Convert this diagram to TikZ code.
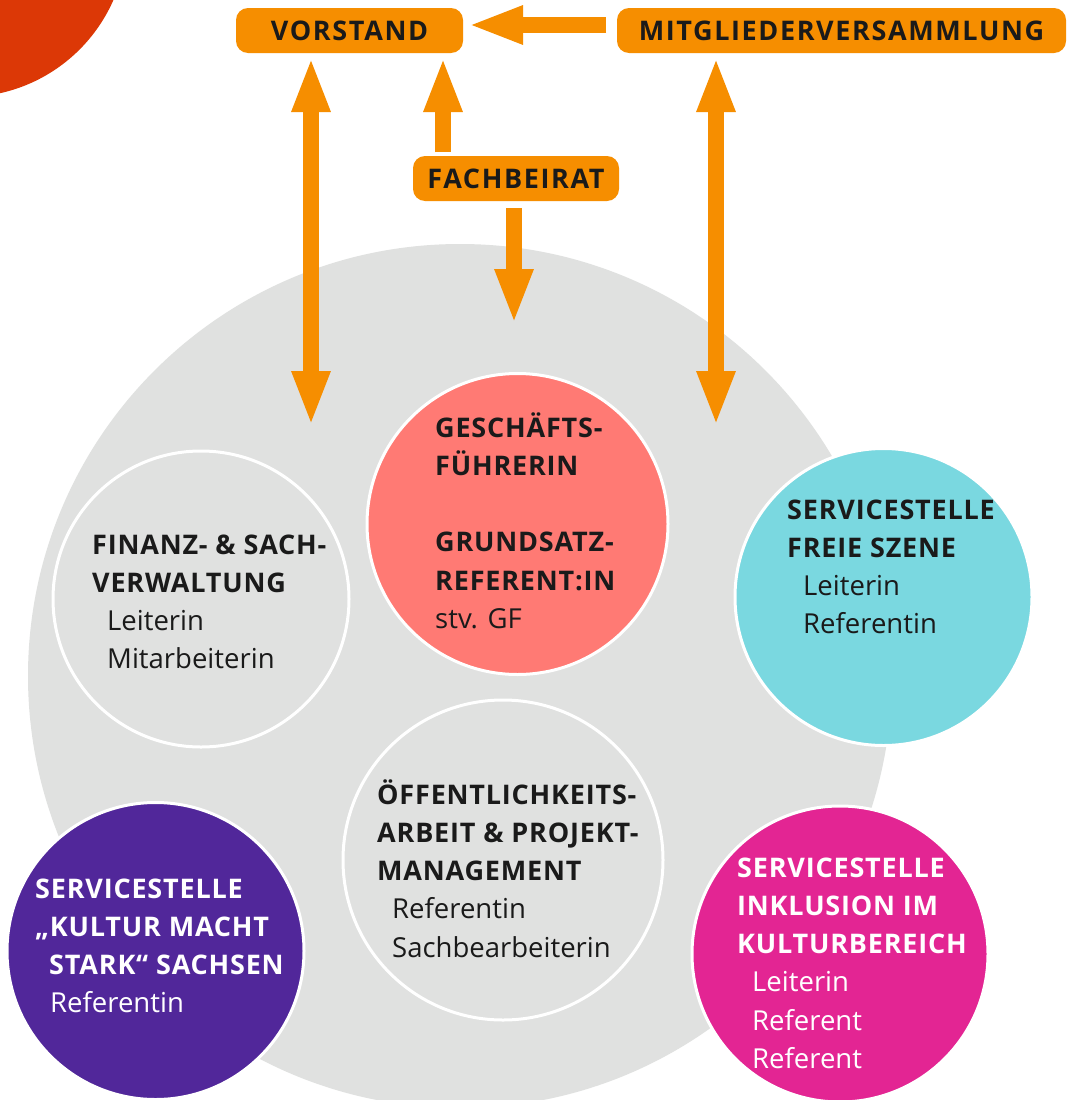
\documentclass[tikz,border=0pt]{standalone}
\usepackage{fontspec}
\setmainfont{Open Sans}
\newfontfamily\labelfont{Open Sans}[LetterSpace=6]
\newfontfamily\headfont{Open Sans}[LetterSpace=3]
\usetikzlibrary{arrows.meta}

\definecolor{bggray}{HTML}{E0E1E0}
\definecolor{orng}{HTML}{F68E00}
\definecolor{redor}{HTML}{DC3806}
\definecolor{gfred}{HTML}{FF7A74}
\definecolor{szcyan}{HTML}{7AD8E0}
\definecolor{kmspurple}{HTML}{51279A}
\definecolor{inkmag}{HTML}{E32593}
\definecolor{ink}{HTML}{1A1A1A}

\newcommand{\unithead}{\headfont\bfseries\fontsize{27}{38.3}\selectfont}
\newcommand{\unitbox}[1]{\parbox[t]{320pt}{\raggedright\fontsize{27.5}{38.3}\selectfont #1}}

\begin{document}
\begin{tikzpicture}[x=1pt,y=-1pt,
  orgbox/.style={fill=orng, rounded corners=12pt, inner sep=0, text=ink,
    minimum height=45pt, font=\labelfont\bfseries\fontsize{27}{30}\selectfont},
  unit/.style={circle, draw=white, line width=3pt, inner sep=0},
  fatarrow/.style={draw=orng, line width=16pt, -{Triangle[width=35pt,length=55pt]}},
  fatboth/.style={draw=orng, line width=16pt,
    {Triangle[width=35pt,length=55pt]}-{Triangle[width=35pt,length=55pt]}},
  circtext/.style={anchor=base west, inner sep=0}]

\useasboundingbox (0,0) rectangle (1069,1100);
\fill[white] (0,0) rectangle (1069,1100);
\clip (0,0) rectangle (1069,1100);

% background shapes
\fill[redor] (-35,-65) circle[radius=162pt];
\fill[bggray] (460,676) circle[radius=432pt];

% governing bodies
\node[orgbox, minimum width=227pt] (vs) at (349.5,30.5) {VORSTAND};
\node[orgbox, minimum width=449pt] (mv) at (841.5,30.5) {MITGLIEDERVERSAMMLUNG};
\node[orgbox, minimum width=206pt] (fb) at (516,178.5) {FACHBEIRAT};

% organisational units
\node[unit, fill=gfred, minimum size=301pt] (gf) at (517.5,524) {};
\node[unit, fill=bggray, minimum size=296pt] (fin) at (201,599) {};
\node[unit, fill=szcyan, minimum size=297pt] (sz) at (883.5,597) {};
\node[unit, fill=bggray, minimum size=320pt] (oea) at (503,860) {};
\node[unit, fill=kmspurple, minimum size=297pt] (kms) at (155.5,951) {};
\node[unit, fill=inkmag, minimum size=296pt] (ink) at (840,954) {};

% unit labels
\node[circtext, text=ink] (gf-t) at (435,437) {\unitbox{{\unithead GESCH\"AFTS-\\ F\"UHRERIN\\[38.3pt] GRUNDSATZ-\\ REFERENT:IN}\\ stv. GF}};
\node[circtext, text=ink] (fin-t) at (92,554) {\unitbox{{\unithead FINANZ- \& SACH-\\ VERWALTUNG}\\ \hspace*{15pt}Leiterin\\ \hspace*{15pt}Mitarbeiterin}};
\node[circtext, text=ink] (sz-t) at (787,519) {\unitbox{{\unithead SERVICESTELLE\\ FREIE SZENE}\\ \hspace*{16pt}Leiterin\\ \hspace*{16pt}Referentin}};
\node[circtext, text=ink] (oea-t) at (377,804) {\unitbox{{\unithead \"OFFENTLICHKEITS-\\ ARBEIT \& PROJEKT-\\ MANAGEMENT}\\ \hspace*{15pt}Referentin\\ \hspace*{15pt}Sachbearbeiterin}};
\node[circtext, text=white] (kms-t) at (35,898) {\unitbox{{\unithead SERVICESTELLE\\ „KULTUR MACHT\\ \hspace*{14pt}STARK“ SACHSEN}\\ \hspace*{15pt}Referentin}};
\node[circtext, text=white] (ink-t) at (737,877) {\unitbox{{\unithead SERVICESTELLE\\ INKLUSION IM\\ KULTURBEREICH}\\ \hspace*{15pt}Leiterin\\ \hspace*{15pt}Referent\\ \hspace*{15pt}Referent}};

% connector end points
\coordinate (mv-out) at (606,25);
\coordinate (vs-in) at (468,25);
\coordinate (vs-l) at (311,57);
\coordinate (team-l) at (311,426);
\coordinate (mv-l) at (716,57);
\coordinate (team-r) at (716,426);
\coordinate (fb-up) at (443,152);
\coordinate (vs-r) at (443,57);
\coordinate (fb-down) at (514,208);
\coordinate (gf-in) at (514,324);

% connectors
\draw[fatarrow] (mv-out) -- (vs-in);
\draw[fatboth] (vs-l) -- (team-l);
\draw[fatboth] (mv-l) -- (team-r);
\draw[fatarrow] (fb-up) -- (vs-r);
\draw[fatarrow] (fb-down) -- (gf-in);
\end{tikzpicture}
\end{document}
